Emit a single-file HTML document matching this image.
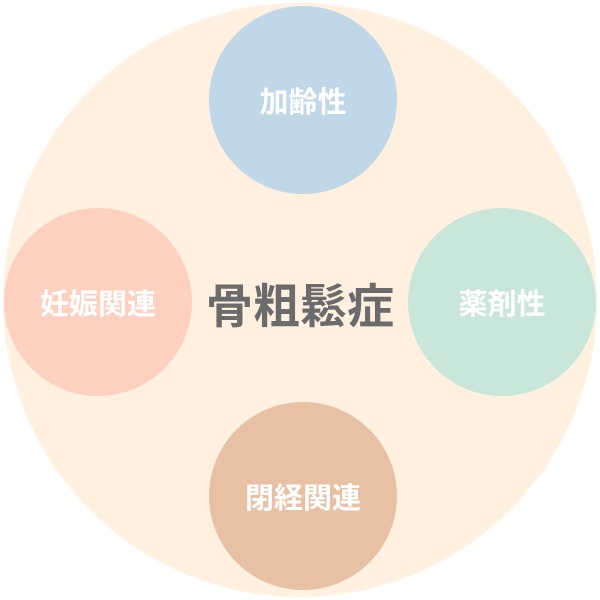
<!DOCTYPE html>
<html><head><meta charset="utf-8"><style>
html,body{margin:0;padding:0;width:600px;height:600px;background:#fff;overflow:hidden}
.c{position:absolute;border-radius:50%;display:flex;align-items:center;justify-content:center;font-family:"Liberation Sans","Noto Sans CJK JP",sans-serif;font-weight:bold;color:#fff;font-size:29px}
</style></head><body>
<div class="c" style="left:3px;top:3px;width:594px;height:594px;background:#fff0e0"></div>
<div class="c" style="left:209px;top:6px;width:188px;height:188px;background:#bfd7e6">加齢性</div>
<div class="c" style="left:408px;top:208px;width:188px;height:188px;background:#c8e6da">薬剤性</div>
<div class="c" style="left:209px;top:402px;width:188px;height:188px;background:#e8c1a4">閉経関連</div>
<div class="c" style="left:4px;top:208px;width:188px;height:188px;background:#fdd0c0">妊娠関連</div>
<div style="position:absolute;left:150px;top:272px;width:300px;height:60px;display:flex;align-items:center;justify-content:center;font-family:'Liberation Sans','Noto Sans CJK JP',sans-serif;font-weight:bold;font-size:47px;color:#6b6b6b">骨粗鬆症</div>
</body></html>
